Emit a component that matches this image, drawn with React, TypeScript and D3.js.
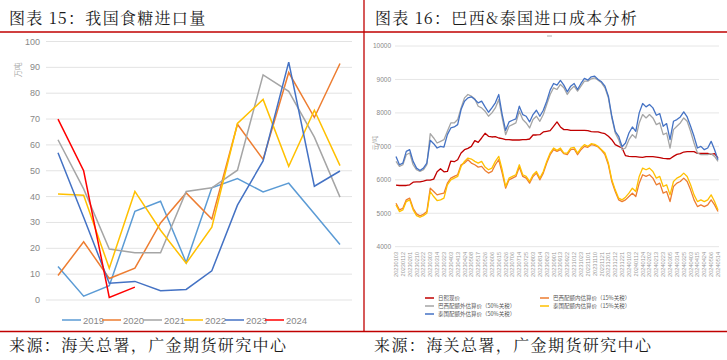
import React from "react";
import * as d3 from "d3";

// 图表15 我国食糖进口量 (万吨), 1-12月
const months = [1, 2, 3, 4, 5, 6, 7, 8, 9, 10, 11, 12];
const imp2019 = [13, 1.5, 5.5, 34.3, 38.2, 14.5, 43.4, 47, 41.8, 45.2, 33.4, 21.5];
const imp2020 = [9.5, 22.5, 8.3, 12.3, 29.8, 41.4, 31.3, 68, 54.4, 88, 70.6, 91.5];
const imp2021 = [62, 43, 19.7, 18.3, 18.3, 42, 43.4, 50.2, 87.1, 80.7, 63, 39.8];
const imp2022 = [41, 40.5, 12.3, 42, 27, 14.2, 28.2, 68.3, 77.6, 51.7, 73.4, 52];
const imp2023 = [57, 32, 6.5, 7.2, 3.6, 4.1, 11.3, 36.7, 53.8, 92, 44, 49.9];
const imp2024 = [70, 50, 1, 5];

const leftSeries = [
  { name: "2019", color: "#5B9BD5", values: imp2019 },
  { name: "2020", color: "#ED7D31", values: imp2020 },
  { name: "2021", color: "#A5A5A5", values: imp2021 },
  { name: "2022", color: "#FFC000", values: imp2022 },
  { name: "2023", color: "#4472C4", values: imp2023 },
  { name: "2024", color: "#FF0000", values: imp2024 },
];
const leftTicks = [0, 10, 20, 30, 40, 50, 60, 70, 80, 90, 100];

// 图表16 巴西&泰国进口成本 (元/吨)
const dateLabels = [
  "20230103", "20230112", "20230201", "20230210", "20230222", "20230303", "20230314", "20230323",
  "20230403", "20230413", "20230424", "20230508", "20230517", "20230526", "20230606", "20230615",
  "20230626", "20230706", "20230714", "20230725", "20230803", "20230814", "20230823", "20230901",
  "20230913", "20230922", "20231012", "20231023", "20231101", "20231110", "20231121", "20231201",
  "20231212", "20231221", "20240103", "20240112", "20240124", "20240202", "20240213", "20240223",
  "20240305", "20240314", "20240325", "20240403", "20240415", "20240424", "20240506", "20240514",
];
const rizhao = [
  5840, 5830, 5830, 5830, 5850, 5930, 5940, 5940, 5960, 5990, 5990, 6020, 6240, 6330, 6240, 6250,
  6560, 6540, 6600, 6800, 6900, 6940, 7000, 7170, 7120, 7250, 7390, 7300, 7280, 7290, 7250, 7230,
  7200, 7200, 7190, 7190, 7190, 7200, 7200, 7220, 7340, 7340, 7350, 7430, 7450, 7470, 7600, 7730,
  7580, 7500, 7500, 7480, 7480, 7480, 7480, 7480, 7470, 7440, 7430, 7430, 7400, 7380, 7300, 7200,
  7050, 7000, 6950, 6720, 6700, 6690, 6690, 6680, 6670, 6690, 6690, 6690, 6680, 6660, 6640, 6630,
  6630, 6700, 6760, 6780, 6830, 6840, 6840, 6840, 6790, 6790, 6790, 6790, 6760, 6780, 6650,
];
const brazil50 = [
  6550, 6400, 6450, 6750, 6800, 6450, 6300, 6250, 6300, 6450, 7380, 7250, 7100, 7150, 7200, 7450,
  7700, 7700, 7800, 8150, 8450, 8550, 8500, 8420, 8200, 8150, 8050, 7900, 8000, 8150, 8400, 7850,
  7350, 7600, 7650, 7700, 8050, 7800, 7700, 7550, 7800, 7900, 7750, 7950, 8250, 8550, 8750, 8700,
  8850, 8750, 8550, 8700, 8800, 8650, 8800, 8950, 8950, 9020, 9050, 8980, 8900, 8750, 8450, 7850,
  7400, 7200, 6900, 6950, 7200, 7350, 7250, 7700, 7950, 7850, 7950, 7850, 7650, 7700, 7350, 7400,
  6950, 7500, 7600, 7700, 7850, 7750, 7450, 7100, 6800, 6750, 6750, 6750, 6780, 6700, 6550,
];
const thai50 = [
  6700, 6450, 6500, 6850, 6900, 6550, 6350, 6280, 6350, 6500, 7180, 7080, 6950, 7000, 6980, 7350,
  7550, 7580, 7650, 8100, 8350, 8450, 8480, 8400, 8300, 8350, 8180, 8020, 8150, 8300, 8550, 7950,
  7480, 7730, 7780, 7820, 8200, 7950, 7900, 7730, 7950, 8080, 7900, 8080, 8350, 8680, 8880, 8830,
  8970, 8830, 8630, 8800, 8880, 8700, 8880, 9030, 8980, 9080, 9100, 9000, 8930, 8800, 8500, 7900,
  7450, 7300, 6990, 7100, 7400, 7580, 7450, 8000, 8280, 8180, 8250, 8150, 7930, 7980, 7600, 7680,
  7200, 7750, 7800, 7880, 8030, 7880, 7600, 7300, 6950, 7000, 6900, 6950, 7150, 6900, 6600,
];
const brazil15 = [
  5300, 5100, 5150, 5400, 5450, 5150, 4980, 4920, 4970, 5050, 5750, 5650, 5550, 5580, 5600, 5900,
  6050, 6100, 6150, 6450, 6500, 6600, 6500, 6450, 6380, 6400, 6280, 6200, 6250, 6450, 6600, 6200,
  5750, 6000, 6050, 6100, 6380, 6100, 6050, 5900, 6100, 6200, 6000, 6200, 6500, 6750, 6900, 6850,
  6900, 6780, 6750, 6900, 6920, 6750, 6900, 7000, 6970, 7050, 7030, 6980, 6880, 6750, 6450, 5950,
  5650, 5400, 5350, 5400, 5500, 5600, 5500, 5900, 6150, 6100, 6150, 6050, 5850, 5900, 5600, 5650,
  5350, 5800, 5900, 5950, 6050, 5950, 5700, 5400, 5200, 5250, 5200, 5250, 5400, 5250, 5050,
];
const thai15 = [
  5250, 5050, 5100, 5350, 5400, 5100, 4930, 4880, 4930, 5000, 5650, 5500, 5380, 5400, 5450, 5850,
  6000, 6050, 6100, 6400, 6550, 6650, 6620, 6550, 6500, 6550, 6380, 6300, 6350, 6550, 6700, 6300,
  5800, 6050, 6100, 6150, 6450, 6150, 6100, 5950, 6150, 6250, 6050, 6250, 6550, 6800, 6950, 6880,
  6950, 6800, 6800, 6950, 6970, 6800, 6950, 7050, 7000, 7080, 7060, 7000, 6900, 6800, 6500, 6000,
  5700, 5450, 5400, 5480, 5600, 5750, 5650, 6100, 6350, 6300, 6350, 6250, 6050, 6100, 5800, 5850,
  5550, 5950, 6050, 6100, 6200, 6100, 5850, 5550, 5350, 5400, 5350, 5400, 5550, 5350, 5100,
];

const rightSeries = [
  { name: "日照现价", color: "#C00000", values: rizhao },
  { name: "巴西配额外估算价（50%关税）", color: "#A5A5A5", values: brazil50 },
  { name: "泰国配额外估算价（50%关税）", color: "#4472C4", values: thai50 },
  { name: "巴西配额内估算价（15%关税）", color: "#ED7D31", values: brazil15 },
  { name: "泰国配额内估算价（15%关税）", color: "#FFC000", values: thai15 },
];
const rightTicks = [4000, 5000, 6000, 7000, 8000, 9000, 10000];

const serif = "'Noto Serif CJK SC', 'Noto Sans CJK SC', serif";
const sans = "'Liberation Sans', Arial, 'Noto Sans CJK SC', sans-serif";

const App = () => {
  // left chart scales
  const xL = d3.scalePoint<number>().domain(months).range([58, 340]);
  const yL = d3.scaleLinear().domain([0, 100]).range([300, 41.5]);
  const lineL = d3
    .line<number>()
    .x((d, i) => xL(months[i]) as number)
    .y((d) => yL(d));

  // right chart scales
  const idx = d3.range(rizhao.length);
  const xR = d3.scalePoint<number>().domain(idx).range([396, 718]);
  const yR = d3.scaleLinear().domain([4000, 10000]).range([246.7, 46]);
  const lineR = d3
    .line<number>()
    .x((d, i) => xR(i) as number)
    .y((d) => yR(d));
  const step = (rizhao.length - 1) / (dateLabels.length - 1);

  const legendL = [62, 102, 143, 184, 225, 265];

  return (
    <svg
      width={727}
      height={360}
      style={{ position: "absolute", left: 0, top: 0, background: "#fff" }}
    >
      {/* frame lines */}
      <line x1={0} x2={727} y1={32} y2={32} stroke="#C00000" strokeWidth={1.3} />
      <line x1={0} x2={727} y1={331.5} y2={331.5} stroke="#C00000" strokeWidth={1.3} />
      <line x1={364} x2={364} y1={0} y2={331.5} stroke="#C00000" strokeWidth={1.3} />

      <text x={9} y={24} fontFamily={serif} fontSize={16} letterSpacing={1.3} fill="#1a1a1a">
        图表 15：我国食糖进口量
      </text>
      <text x={375} y={24} fontFamily={serif} fontSize={16} letterSpacing={1.3} fill="#1a1a1a">
        图表 16：巴西&amp;泰国进口成本分析
      </text>
      <text x={9} y={351} fontFamily={serif} fontSize={16} letterSpacing={1.4} fill="#1a1a1a">
        来源：海关总署，广金期货研究中心
      </text>
      <text x={374} y={351} fontFamily={serif} fontSize={16} letterSpacing={1.4} fill="#1a1a1a">
        来源：海关总署，广金期货研究中心
      </text>

      {/* ---- left chart ---- */}
      <g>
        {leftTicks.map((t) => (
          <g key={t}>
            <line x1={46} x2={352} y1={yL(t)} y2={yL(t)} stroke="#e3e3e3" strokeWidth={1} />
            <text
              x={40}
              y={yL(t) + 3}
              textAnchor="end"
              fontFamily={sans}
              fontSize={9}
              fill="#888"
            >
              {t}
            </text>
          </g>
        ))}
        <text
          transform="translate(21,70) rotate(-90)"
          textAnchor="middle"
          fontFamily="'Noto Sans CJK SC', sans-serif"
          fontSize={7.5}
          fill="#aaa"
        >
          万吨
        </text>
        {leftSeries.map((s) => (
          <path
            key={s.name}
            d={lineL(s.values) || ""}
            fill="none"
            stroke={s.color}
            strokeWidth={1.5}
          />
        ))}
        {leftSeries.map((s, i) => (
          <g key={s.name}>
            <line
              x1={legendL[i]}
              x2={legendL[i] + 19}
              y1={320}
              y2={320}
              stroke={s.color}
              strokeWidth={1.5}
            />
            <text x={legendL[i] + 21} y={323.5} fontFamily={sans} fontSize={9.5} fill="#888">
              {s.name}
            </text>
          </g>
        ))}
      </g>

      {/* ---- right chart ---- */}
      <g>
        <line x1={547} x2={552} y1={36} y2={36} stroke="#999" strokeWidth={0.8} />
        {rightTicks.map((t) => (
          <g key={t}>
            <line x1={395} x2={719} y1={yR(t)} y2={yR(t)} stroke="#e6e6e6" strokeWidth={1} />
            <text
              x={391}
              y={yR(t) + 2.3}
              textAnchor="end"
              fontFamily={sans}
              fontSize={6.5}
              fill="#888"
            >
              {t}
            </text>
          </g>
        ))}
        <text
          transform="translate(377,143) rotate(-90)"
          textAnchor="middle"
          fontFamily="'Noto Sans CJK SC', sans-serif"
          fontSize={6}
          fill="#999"
        >
          元/吨
        </text>
        {dateLabels.map((lab, i) => {
          const x = xR(Math.round(i * step)) as number;
          return (
            <text
              key={lab}
              transform={`translate(${x + 2},252) rotate(-90)`}
              textAnchor="end"
              fontFamily={sans}
              fontSize={5.6}
              fill="#999"
            >
              {lab}
            </text>
          );
        })}
        {rightSeries.map((s) => (
          <path
            key={s.name}
            d={lineR(s.values) || ""}
            fill="none"
            stroke={s.color}
            strokeWidth={1.3}
            strokeLinejoin="round"
          />
        ))}
        {rightSeries.map((s, i) => {
          const col = i < 3 ? 0 : 1;
          const row = i < 3 ? i : i - 3;
          const x0 = col === 0 ? 425 : 540;
          const y0 = 298 + row * 8;
          return (
            <g key={s.name}>
              <line x1={x0} x2={x0 + 9} y1={y0} y2={y0} stroke={s.color} strokeWidth={1.5} />
              <text
                x={x0 + 13}
                y={y0 + 2}
                fontFamily="'Noto Sans CJK SC', sans-serif"
                fontSize={5.5}
                fill="#555"
              >
                {s.name}
              </text>
            </g>
          );
        })}
      </g>
    </svg>
  );
};

export default App;
